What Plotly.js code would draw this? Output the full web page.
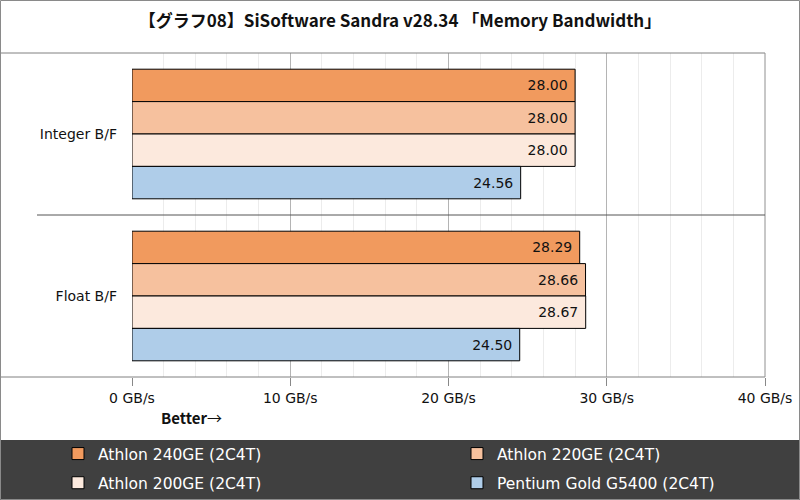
<!DOCTYPE html>
<html>
<head>
<meta charset="utf-8">
<script src="https://cdn.plot.ly/plotly-3.0.1.min.js"></script>
<style>
  body { margin: 0; background: #fff; }
  #chart { width: 800px; height: 500px; }
</style>
</head>
<body>
<div id="chart"></div>
<script>
// data
var categories = ['Integer B/F', 'Float B/F'];
var athlon240 = [28.00, 28.29];
var athlon220 = [28.00, 28.66];
var athlon200 = [28.00, 28.67];
var pentium = [24.56, 24.50];

var seriesNames = ['Athlon 240GE (2C4T)', 'Athlon 220GE (2C4T)', 'Athlon 200GE (2C4T)', 'Pentium Gold G5400 (2C4T)'];
var seriesColors = ['#f19a5e', '#f6c19e', '#fce9dd', '#afcde9'];
var tickVals = [0, 10, 20, 30, 40];
var tickText = ['0 GB/s', '10 GB/s', '20 GB/s', '30 GB/s', '40 GB/s'];

var jp = '"Noto Sans CJK JP", "DejaVu Sans", sans-serif';
var dv = '"DejaVu Sans", sans-serif';

// plot area in pixels: x 132..765, y 53..377
var L = 132, R = 765, T = 53, B = 377;
var W = R - L, H = B - T;
function px(x) { return (x - L) / W; }
function py(y) { return (B - y) / H; }

var allValues = [athlon240, athlon220, athlon200, pentium];
var data = allValues.map(function(vals, i) {
  return {
    type: 'bar',
    orientation: 'h',
    name: seriesNames[i],
    y: categories,
    x: vals,
    text: vals.map(function(v) { return v.toFixed(2) + '\u00a0'; }),
    textposition: 'inside',
    insidetextanchor: 'end',
    textfont: { family: dv, size: 14, color: '#111' },
    marker: { color: seriesColors[i], line: { color: '#000', width: 1 } },
    legend: (i % 2 === 0) ? 'legend' : 'legend2',
    legendgroup: 'g' + i,
    hoverinfo: 'none'
  };
});

var legendBase = {
  orientation: 'v',
  bgcolor: 'rgba(0,0,0,0)',
  font: { family: dv, size: 15.5, color: '#ffffff' },
  yanchor: 'top',
  y: py(437),
  tracegroupgap: 6,
  itemclick: false,
  itemdoubleclick: false
};

var layout = {
  width: 800,
  height: 500,
  margin: { l: L, r: 800 - R, t: T, b: 500 - B, autoexpand: false },
  paper_bgcolor: '#fff',
  plot_bgcolor: '#fff',
  title: {
    text: '<b>【グラフ08】SiSoftware Sandra v28.34 「Memory Bandwidth」</b>',
    font: { family: jp, size: 17, color: '#111' },
    xref: 'container', x: 0.5, xanchor: 'center',
    yref: 'container', y: 1 - 21 / 500, yanchor: 'middle'
  },
  barmode: 'group',
  bargap: 0.2,
  bargroupgap: 0,
  xaxis: {
    range: [0, 40],
    tickvals: tickVals,
    ticktext: tickText,
    tickfont: { family: dv, size: 14, color: '#111' },
    ticks: 'outside',
    ticklen: 8,
    tickcolor: '#888',
    showgrid: true,
    gridcolor: '#b4b4b4',
    gridwidth: 1,
    minor: { dtick: 2, showgrid: true, gridcolor: '#ececec', gridwidth: 1 },
    zeroline: false,
    showline: false,
    fixedrange: true
  },
  yaxis: {
    autorange: 'reversed',
    tickfont: { family: dv, size: 14, color: '#111' },
    ticks: '',
    ticklabelstandoff: 14,
    showgrid: false,
    zeroline: false,
    showline: false,
    fixedrange: true
  },
  legend: Object.assign({}, legendBase, { x: px(58), xanchor: 'left' }),
  legend2: Object.assign({}, legendBase, { x: px(457), xanchor: 'left' }),
  shapes: [
    // dark legend band
    { type: 'rect', xref: 'paper', yref: 'paper', x0: px(0), x1: px(800), y0: py(440), y1: py(500),
      fillcolor: '#404040', line: { width: 0 }, layer: 'below' },
    // top rule under title
    { type: 'line', xref: 'paper', yref: 'paper', x0: px(0), x1: 1, y0: 1, y1: 1,
      line: { color: '#808080', width: 1 } },
    // bottom axis rule
    { type: 'line', xref: 'paper', yref: 'paper', x0: px(0), x1: 1, y0: 0, y1: 0,
      line: { color: '#808080', width: 1 } },
    // right plot border
    { type: 'line', xref: 'paper', yref: 'paper', x0: 1, x1: 1, y0: 0, y1: 1,
      line: { color: '#909090', width: 1 } },
    // category separator
    { type: 'line', xref: 'paper', yref: 'y', x0: px(37), x1: 1, y0: 0.5, y1: 0.5,
      line: { color: '#555', width: 1 } },
    // outer frame
    { type: 'rect', xref: 'paper', yref: 'paper', x0: px(0.5), x1: px(799.5), y0: py(0.5), y1: py(499.5),
      line: { color: '#8a8a8a', width: 1 }, fillcolor: 'rgba(0,0,0,0)' }
  ],
  annotations: [
    { text: '<b>Better</b>→', xref: 'paper', yref: 'paper', x: px(159), y: py(418),
      xanchor: 'left', yanchor: 'middle', showarrow: false,
      font: { family: jp, size: 15, color: '#111' } }
  ]
};

Plotly.newPlot('chart', data, layout, { displayModeBar: false, staticPlot: true });
</script>
</body>
</html>
